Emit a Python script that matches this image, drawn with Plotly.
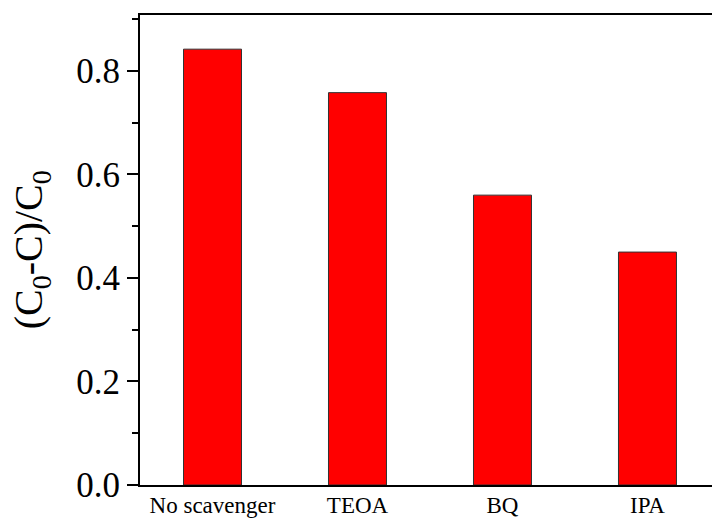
import plotly.graph_objects as go

# Scavenger experiment: degradation ratio (C0-C)/C0 for each trapping agent
scavengers = ["No scavenger", "TEOA", "BQ", "IPA"]
removal_ratio = [0.842, 0.758, 0.560, 0.450]
y_ticks = [0.0, 0.2, 0.4, 0.6, 0.8]
y_tick_labels = ["0.0", "0.2", "0.4", "0.6", "0.8"]

FONT = "Liberation Serif"

fig = go.Figure(
    go.Bar(
        x=scavengers,
        y=removal_ratio,
        width=0.4,
        marker=dict(color="#ff0000", line=dict(color="#333333", width=1)),
    )
)

fig.update_layout(
    width=712,
    height=522,
    margin=dict(l=140, r=0, t=15, b=37),
    plot_bgcolor="white",
    paper_bgcolor="white",
    showlegend=False,
    font=dict(family=FONT, color="black"),
)

fig.update_xaxes(
    type="category",
    range=[-0.5, 3.445],
    showline=True,
    linecolor="black",
    linewidth=2,
    mirror=True,
    ticks="",
    showgrid=False,
    ticklabelstandoff=-2,
    tickfont=dict(family=FONT, size=23, color="black"),
)

fig.update_yaxes(
    range=[0, 0.908],
    tickvals=y_ticks,
    ticktext=y_tick_labels,
    showline=True,
    linecolor="black",
    linewidth=2,
    mirror=False,
    ticks="outside",
    ticklen=11,
    tickwidth=1.5,
    tickcolor="black",
    minor=dict(ticks="outside", ticklen=6, tickwidth=1.5, tickcolor="black", dtick=0.1),
    showgrid=False,
    zeroline=False,
    tickfont=dict(family=FONT, size=35, color="black"),
)

fig.add_annotation(
    text="(C<sub>0</sub>-C)/C<sub>0</sub>",
    xref="paper",
    yref="paper",
    x=-0.19,
    y=0.5,
    xanchor="center",
    yanchor="middle",
    textangle=-90,
    showarrow=False,
    font=dict(family=FONT, size=40, color="black"),
)

fig.write_html("out.html")
